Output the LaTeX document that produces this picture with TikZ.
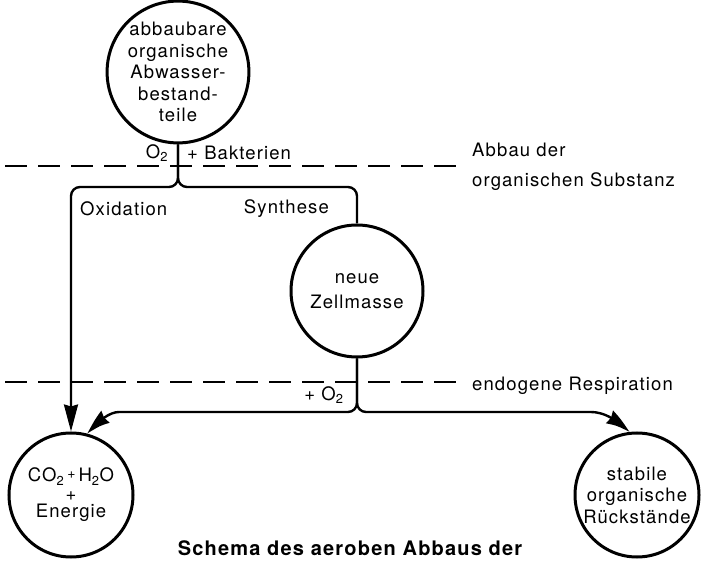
\documentclass[tikz,border=0pt]{standalone}
\usepackage{fontspec}
\setmainfont{TeX Gyre Heros}[LetterSpace=6]
\usetikzlibrary{arrows.meta, bending}

\begin{document}
\begin{tikzpicture}[
  x=1pt, y=1pt,
  font=\fontsize{18.5}{21.6}\selectfont,
  blob/.style={draw, circle, line width=3pt, align=center, inner sep=0pt},
  flow/.style={line width=2.4pt, rounded corners=9pt},
  zone/.style={line width=2.2pt, dash pattern=on 22pt off 11pt},
  lab/.style={inner sep=1pt},
  tip/.style={-{Stealth[length=27pt, width=14pt, inset=2pt, bend]}}
]
\useasboundingbox (0,0) rectangle (707,568);

% circles
\node[blob, minimum size=132pt] (abw) at (178,496) {abbaubare\\organische\\Abwasser-\\bestand-\\teile};
\node[blob, minimum size=132pt] (zell) at (357,277) {neue\\[4pt]Zellmasse};
\node[blob, minimum size=124pt] (energie) at (71,73) {CO\textsubscript{2}\,\raisebox{3pt}{\fontsize{14}{14}\selectfont +}\,H\textsubscript{2}O\\[-3pt]+\\[-4pt]Energie};
\node[blob, minimum size=124pt] (rest) at (637,73) {stabile\\organische\\Rückstände};

% boundaries
\draw[zone] (5,402) -- (462,402);
\draw[zone] (5,186) -- (462,186);
\node[lab, anchor=west, align=left] (abbau) at (471,401) {Abbau der\\[8pt]organischen Substanz};
\node[lab, anchor=west] (endo) at (471,182) {endogene Respiration};

% flows
\coordinate (sp1) at (178,381);
\coordinate (sp2) at (357,156);
\coordinate (l2) at (128,156);
\coordinate (r2) at (582,156);
\draw[flow, tip] (abw.south) -- (sp1) -| (energie.north);
\draw[flow] (abw.south) -- (sp1) -| (zell.north);
\draw[flow, tip] (zell.south) -- (sp2) -- (l2) to[out=180, in=50] (energie.75);
\draw[flow, tip] (zell.south) -- (sp2) -- (r2) to[out=0, in=135] (rest.97);

\node[lab] (o2a) at (157,415) {O\textsubscript{2}};
\node[lab, anchor=west] (bakt) at (186,415) {+ Bakterien};
\node[lab, anchor=west] (oxi) at (79,359) {Oxidation};
\node[lab, anchor=east] (syn) at (330,359) {Synthese};
\node[lab] (o2b) at (324,173) {+ O\textsubscript{2}};

\node[lab, font=\fontsize{20}{24}\selectfont\bfseries] (titel) at (350,20) {Schema des aeroben Abbaus der};
\end{tikzpicture}
\end{document}
